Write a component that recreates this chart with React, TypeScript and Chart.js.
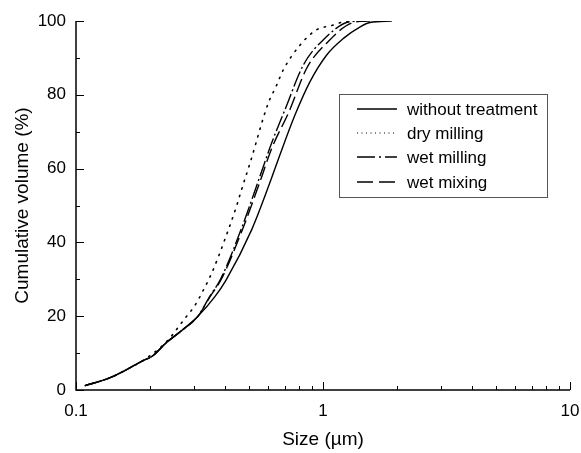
import React, { useEffect, useRef } from "react";
import { Chart, registerables } from "chart.js";

Chart.register(...registerables);

// Size (µm) / cumulative volume (%) pairs
const withoutTreatmentX = [0.109, 0.136, 0.159, 0.186, 0.204, 0.231, 0.27, 0.311, 0.365, 0.405, 0.514, 0.615, 0.669, 0.77, 0.885, 1.035, 1.21, 1.42, 1.55, 1.9];
const withoutTreatmentY = [1.2, 3.2, 5.4, 7.9, 9.2, 12.7, 16.3, 19.9, 25.3, 29.8, 43.4, 56.9, 63.7, 74.5, 83.5, 90.8, 95.3, 98.5, 99.6, 100];

const dryMillingX = [0.109, 0.136, 0.159, 0.186, 0.201, 0.216, 0.235, 0.25, 0.266, 0.283, 0.301, 0.328, 0.354, 0.377, 0.4, 0.423, 0.447, 0.469, 0.506, 0.6, 0.645, 0.69, 0.808, 0.941, 1.1, 1.21, 1.3];
const dryMillingY = [1.2, 3.2, 5.4, 7.9, 9.5, 11.1, 13.4, 15.6, 18.0, 20.3, 22.6, 27.1, 31.6, 36.1, 40.7, 45.2, 49.9, 54.5, 61.4, 77.7, 82.2, 86.7, 93.5, 97.6, 98.9, 99.8, 100];

const wetMillingX = [0.109, 0.136, 0.159, 0.186, 0.204, 0.231, 0.27, 0.311, 0.349, 0.386, 0.469, 0.556, 0.62, 0.7, 0.833, 1.003, 1.286, 1.5];
const wetMillingY = [1.2, 3.2, 5.4, 7.9, 9.2, 12.7, 16.3, 19.9, 25.5, 30.2, 44.0, 58.0, 67.0, 75.8, 88.1, 94.9, 99.8, 100];

const wetMixingX = [0.109, 0.136, 0.159, 0.186, 0.204, 0.231, 0.27, 0.311, 0.349, 0.386, 0.469, 0.556, 0.62, 0.728, 0.859, 1.034, 1.326, 1.55];
const wetMixingY = [1.2, 3.2, 5.4, 7.9, 9.2, 12.7, 16.3, 19.9, 25.3, 29.8, 43.0, 56.5, 65.5, 75.4, 87.2, 94.0, 99.6, 100];

const seriesLabels = ["without treatment", "dry milling", "wet milling", "wet mixing"];
const seriesDashes: number[][] = [[], [1.3, 6.5], [16, 3, 2, 3], [14, 5]];
const legendDashes: number[][] = [[], [1, 3.5], [18, 4, 2, 4], [16, 6]];
const xTickLabels = [0.1, 1, 10];
const xMinorTicks = [0.2, 0.3, 0.4, 0.5, 0.6, 0.7, 0.8, 0.9, 2, 3, 4, 5, 6, 7, 8, 9];
const yMajorTicks = [0, 20, 40, 60, 80, 100];
const yMinorTicks = [10, 30, 50, 70, 90];

const FONT = "'Liberation Sans', Arial, Helvetica, sans-serif";

const toPoints = (xs: number[], ys: number[]) => xs.map((x, i) => ({ x, y: ys[i] }));

const axesPlugin = {
  id: "customAxes",
  afterDatasetsDraw(chart: any) {
    const { ctx, chartArea } = chart;
    const xs = chart.scales.x;
    const ys = chart.scales.y;
    ctx.save();
    ctx.strokeStyle = "#000";
    ctx.lineWidth = 1.5;
    ctx.beginPath();
    ctx.moveTo(chartArea.left, chartArea.top);
    ctx.lineTo(chartArea.left, chartArea.bottom);
    ctx.lineTo(chartArea.right, chartArea.bottom);
    ctx.stroke();
    ctx.lineWidth = 1;
    const tick = (x1: number, y1: number, x2: number, y2: number) => {
      ctx.beginPath();
      ctx.moveTo(x1, y1);
      ctx.lineTo(x2, y2);
      ctx.stroke();
    };
    xTickLabels.forEach((v) => {
      const px = Math.round(xs.getPixelForValue(v)) + 0.5;
      tick(px, chartArea.bottom, px, chartArea.bottom - 8);
    });
    xMinorTicks.forEach((v) => {
      const px = Math.round(xs.getPixelForValue(v)) + 0.5;
      tick(px, chartArea.bottom, px, chartArea.bottom - 4);
    });
    yMajorTicks.forEach((v) => {
      const py = Math.round(ys.getPixelForValue(v)) + 0.5;
      tick(chartArea.left, py, chartArea.left + 8, py);
    });
    yMinorTicks.forEach((v) => {
      const py = Math.round(ys.getPixelForValue(v)) + 0.5;
      tick(chartArea.left, py, chartArea.left + 4, py);
    });

    // legend
    const bx = 339.5, by = 94.5, bw = 208, bh = 103;
    ctx.strokeStyle = "#555";
    ctx.lineWidth = 1;
    ctx.strokeRect(bx, by, bw, bh);
    const rows = [109, 133, 157, 182];
    ctx.font = `17px ${FONT}`;
    ctx.fillStyle = "#000";
    ctx.textBaseline = "middle";
    ctx.textAlign = "left";
    seriesLabels.forEach((label, i) => {
      ctx.strokeStyle = "#000";
      ctx.lineWidth = i === 1 ? 1 : 1.3;
      ctx.setLineDash(legendDashes[i]);
      ctx.beginPath();
      ctx.moveTo(357, rows[i]);
      ctx.lineTo(397, rows[i]);
      ctx.stroke();
      ctx.setLineDash([]);
      ctx.fillText(label, 407, rows[i] + 1);
    });
    ctx.restore();
  },
};

export default function App() {
  const ref = useRef<HTMLCanvasElement | null>(null);
  useEffect(() => {
    document.body.style.margin = "0";
    const seriesX = [withoutTreatmentX, dryMillingX, wetMillingX, wetMixingX];
    const seriesY = [withoutTreatmentY, dryMillingY, wetMillingY, wetMixingY];
    const chart = new Chart(ref.current as HTMLCanvasElement, {
      type: "scatter",
      data: {
        datasets: seriesLabels.map((label, i) => ({
          label,
          data: toPoints(seriesX[i], seriesY[i]),
          showLine: true,
          borderColor: "#000",
          backgroundColor: "#000",
          borderWidth: i === 1 ? 1.6 : 1.4,
          borderDash: seriesDashes[i],
          borderCapStyle: i === 1 ? "round" : "butt",
          pointRadius: 0,
          cubicInterpolationMode: "monotone",
        })),
      },
      options: {
        animation: false,
        responsive: false,
        devicePixelRatio: 1,
        layout: { padding: { top: 21, right: 0, left: 0, bottom: 0 } },
        plugins: { legend: { display: false }, tooltip: { enabled: false } },
        scales: {
          x: {
            type: "logarithmic",
            min: 0.1,
            max: 10,
            afterBuildTicks: (scale: any) => {
              scale.ticks = xTickLabels.map((v) => ({ value: v }));
            },
            afterFit: (scale: any) => {
              scale.height = 63;
              scale.paddingRight = 11;
            },
            grid: { display: false, drawTicks: false },
            border: { display: false },
            ticks: {
              autoSkip: false,
              maxRotation: 0,
              padding: 11,
              color: "#000",
              font: { family: FONT, size: 17 },
              callback: (v: any) => String(v),
            },
            title: {
              display: true,
              text: "Size (µm)",
              color: "#000",
              font: { family: FONT, size: 19 },
              padding: { top: 0, bottom: 2 },
            },
          },
          y: {
            min: 0,
            max: 100,
            afterBuildTicks: (scale: any) => {
              scale.ticks = yMajorTicks.map((v) => ({ value: v }));
            },
            afterFit: (scale: any) => {
              scale.width = 76;
            },
            grid: { display: false, drawTicks: false },
            border: { display: false },
            ticks: {
              padding: 10,
              color: "#000",
              font: { family: FONT, size: 17 },
            },
            title: {
              display: true,
              text: "Cumulative volume (%)",
              color: "#000",
              font: { family: FONT, size: 19 },
              padding: { top: 11, bottom: 0 },
            },
          },
        },
      },
      plugins: [axesPlugin],
    } as any);
    return () => chart.destroy();
  }, []);
  return (
    <div style={{ width: 581, height: 453 }}>
      <canvas ref={ref} width={581} height={453} style={{ display: "block" }} />
    </div>
  );
}
